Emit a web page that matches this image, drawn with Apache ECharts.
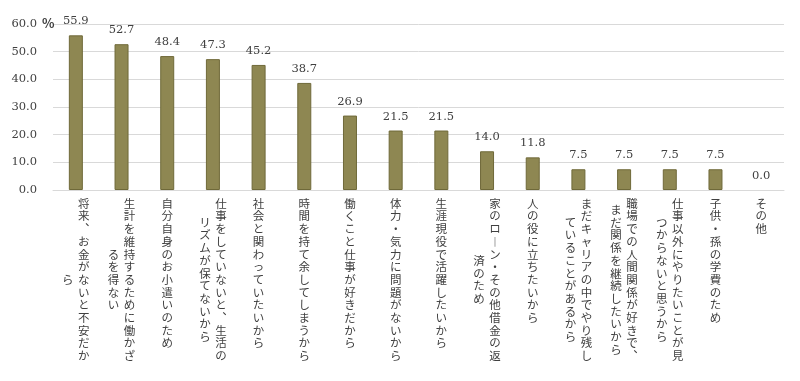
<!DOCTYPE html>
<html>
<head>
<meta charset="utf-8">
<script src="https://cdn.jsdelivr.net/npm/echarts@6/dist/echarts.min.js"></script>
<style>html,body{margin:0;padding:0;background:#fff}#c{width:800px;height:381px}</style>
</head>
<body>
<div id="c"></div>
<script>
const categories = [
  '将来、お金がないと不安だから',
  '生計を維持するために働かざるを得ない',
  '自分自身のお小遣いのため',
  '仕事をしていないと、生活のリズムが保てないから',
  '社会と関わっていたいから',
  '時間を持て余してしまうから',
  '働くこと仕事が好きだから',
  '体力・気力に問題がないから',
  '生涯現役で活躍したいから',
  '家のローン・その他借金の返済のため',
  '人の役に立ちたいから',
  'まだキャリアの中でやり残していることがあるから',
  '職場での人間関係が好きで、まだ関係を継続したいから',
  '仕事以外にやりたいことが見つからないと思うから',
  '子供・孫の学費のため',
  'その他'
];
const values = [55.9, 52.7, 48.4, 47.3, 45.2, 38.7, 26.9, 21.5, 21.5, 14.0, 11.8, 7.5, 7.5, 7.5, 7.5, 0.0];
const yTicks = [0, 10, 20, 30, 40, 50, 60];
const unitLabel = '%';

const COL = 13;
const PITCH = 12.7;
function splitCols(s) {
  const map = {'、': '\uFE11', 'ー': '\uFE31'};
  const chars = Array.from(s).map(c => map[c] || c);
  const cols = [];
  for (let i = 0; i < chars.length; i += COL) cols.push(chars.slice(i, i + COL));
  return cols;
}
// first (right-hand) column
function col1(s) {
  const cols = splitCols(s);
  const two = cols.length > 1;
  return cols[0].map(ch => two ? '{e|\u3000}{c|' + ch + '}' : '{c|' + ch + '}').join('\n');
}
// second (left-hand) column, centred vertically on the first
function col2(s) {
  const cols = splitCols(s);
  if (cols.length < 2) return '';
  const half = cols[0].length - cols[1].length; // offset in half-rows
  const lines = cols[1].map(ch => '{c|' + ch + '}{e|\u3000}');
  if (half > 0) lines.unshift('{o' + half + '|\u3000}');
  return lines.join('\n');
}
const baseC = {width: 16, align: 'center', fontSize: 11.5, lineHeight: PITCH, color: '#404040', fontFamily: 'Noto Sans CJK JP'};
const rich1 = {c: baseC, e: Object.assign({}, baseC)};
const rich2 = {c: baseC, e: Object.assign({}, baseC)};
for (let k = 1; k <= COL; k++) rich2['o' + k] = Object.assign({}, baseC, {lineHeight: k * PITCH / 2, fontSize: 1});

const chart = echarts.init(document.getElementById('c'), null, {renderer: 'canvas'});
chart.setOption({
  animation: false,
  backgroundColor: '#ffffff',
  title: {
    text: unitLabel, left: 37, top: 12,
    textStyle: {fontSize: 13, fontWeight: 'bold', color: '#404040', fontFamily: 'Noto Sans CJK JP'}
  },
  grid: {left: 53, right: 16, top: 24, bottom: 191, containLabel: false},
  xAxis: [{
    type: 'category',
    position: 'bottom',
    data: categories,
    axisLine: {show: true, lineStyle: {color: '#d9d9d9', width: 1}},
    axisTick: {show: false},
    axisLabel: {interval: 0, margin: 7, verticalAlign: 'top', formatter: col1, rich: rich1}
  }, {
    type: 'category',
    position: 'bottom',
    data: categories,
    axisLine: {show: false},
    axisTick: {show: false},
    splitLine: {show: false},
    axisLabel: {interval: 0, margin: 7, verticalAlign: 'top', formatter: col2, rich: rich2}
  }],
  yAxis: {
    type: 'value',
    min: yTicks[0], max: yTicks[yTicks.length - 1], interval: 10,
    axisLine: {show: false},
    axisTick: {show: false},
    splitLine: {lineStyle: {color: '#d9d9d9', width: 1}},
    axisLabel: {
      margin: 16,
      color: '#404040', fontSize: 11.5, fontFamily: 'DejaVu Serif',
      formatter: v => v.toFixed(1)
    }
  },
  series: [{
    type: 'bar',
    xAxisIndex: 0,
    data: values.map(v => v === 0 ? {value: v, itemStyle: {borderWidth: 0}} : v),
    barWidth: 14,
    itemStyle: {color: '#8e8752', borderColor: '#6f6939', borderWidth: 1},
    label: {
      show: true, position: 'top', distance: 8,
      color: '#404040', fontSize: 11.5, fontFamily: 'DejaVu Serif',
      formatter: p => p.value.toFixed(1)
    }
  }]
});
</script>
</body>
</html>
